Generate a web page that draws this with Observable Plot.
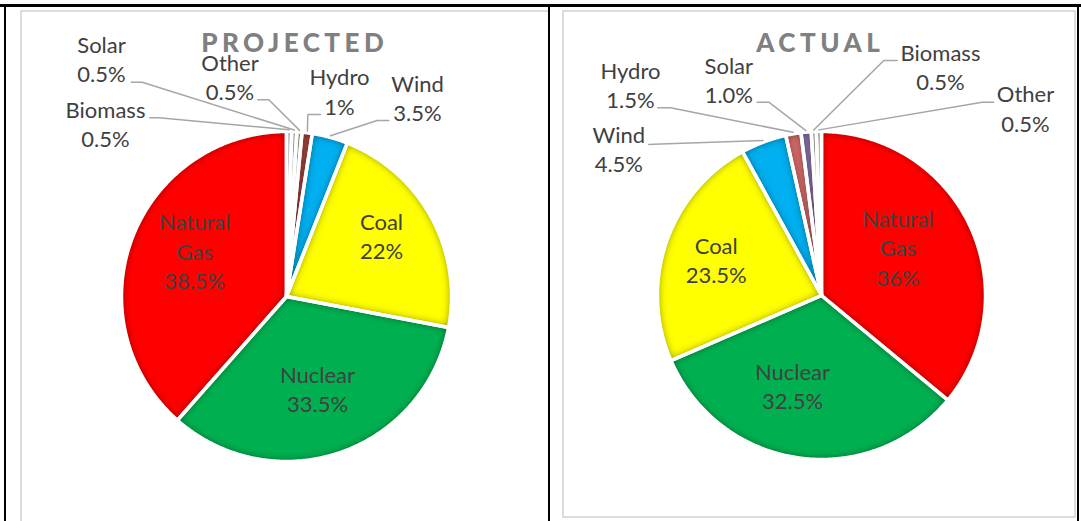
<!DOCTYPE html>
<html><head><meta charset="utf-8">
<script src="https://cdn.jsdelivr.net/npm/d3@7"></script>
<script src="https://cdn.jsdelivr.net/npm/@observablehq/plot@0.6"></script>
<style>
html,body{margin:0;padding:0;background:#fff;}
#page{position:relative;width:1081px;height:521px;overflow:hidden;background:#fff;font-family:Lato,sans-serif;}
.rule{position:absolute;background:#000;}
.frame{position:absolute;box-sizing:border-box;border:2px solid #dcdcdc;}
#page svg{position:absolute;overflow:visible;}
</style></head><body>
<div id="page">
  <div class="frame" style="left:20px;top:10px;width:530px;height:530px"></div>
  <div class="frame" style="left:562px;top:10px;width:514px;height:508px"></div>
</div>
<script>
// ---------- DATA ----------
const projectedCategories = ["Biomass", "Solar", "Other", "Hydro", "Wind", "Coal", "Nuclear", "Natural Gas"];
const projectedValues = [0.5, 0.5, 0.5, 1, 3.5, 22, 33.5, 38.5];
const projectedValueLabels = ["0.5%", "0.5%", "0.5%", "1%", "3.5%", "22%", "33.5%", "38.5%"];

const actualCategories = ["Natural Gas", "Nuclear", "Coal", "Wind", "Hydro", "Solar", "Biomass", "Other"];
const actualValues = [36, 32.5, 23.5, 4.5, 1.5, 1.0, 0.5, 0.5];
const actualValueLabels = ["36%", "32.5%", "23.5%", "4.5%", "1.5%", "1.0%", "0.5%", "0.5%"];

const projectedTitle = "PROJECTED";
const actualTitle = "ACTUAL";

// ---------- STYLE ----------
const projectedColors = {"Biomass": "#ebe8f0", "Solar": "#eeeeee", "Other": "#d8cfa0", "Hydro": "#a8443f",
  "Wind": "#00b0f0", "Coal": "#ffff00", "Nuclear": "#00b050", "Natural Gas": "#ff0000"};
const actualColors = {"Natural Gas": "#ff0000", "Nuclear": "#00b050", "Coal": "#ffff00", "Wind": "#00b0f0",
  "Hydro": "#d46a6a", "Solar": "#8c74ad", "Biomass": "#d9d9d9", "Other": "#c9bb97"};

// ---------- LAYOUT (page pixels) ----------
const projectedLayout = {
  geom: {left: 21, top: 11, width: 527, height: 510, cx: 286, cy: 296, r: 165},
  title: {x: 292, y: 51.2},
  labels: {
    "Biomass": {x: 105, y: 146.7, leader: [[149.3, 117.3], [158.3, 117.3]]},
    "Solar": {x: 101, y: 81.7, leader: [[130.7, 81.7], [141.7, 81.7]]},
    "Other": {x: 229.5, y: 99.8, leader: [[257.3, 99.3], [268.3, 99.3]]},
    "Hydro": {x: 339, y: 114, leader: [[320, 114], [307.3, 114]]},
    "Wind": {x: 417, y: 120.7, leader: [[388.3, 120], [376.7, 120]]},
    "Coal": {x: 381, y: 258.3},
    "Nuclear": {x: 317, y: 411.7},
    "Natural Gas": {x: 194.2, y: 288.3}
  }
};
const actualLayout = {
  geom: {left: 563, top: 11, width: 512, height: 506, cx: 821, cy: 295, r: 164},
  title: {x: 817.5, y: 51.2},
  labels: {
    "Hydro": {x: 630, y: 107.3, leader: [[657.3, 107.3], [670, 107.3]]},
    "Solar": {x: 728.3, y: 102.7, leader: [[756.7, 101.7], [768.3, 101.7]]},
    "Wind": {x: 618.3, y: 171.7, leader: [[648.3, 144], [660, 143.6]]},
    "Biomass": {x: 940, y: 89.3, leader: [[896.7, 60], [883.3, 60]]},
    "Other": {x: 1025, y: 131, leader: [[993.3, 101.7], [981.7, 101.7]]},
    "Natural Gas": {x: 897.5, y: 285},
    "Coal": {x: 715.7, y: 282.7},
    "Nuclear": {x: 792, y: 408.3}
  }
};

function drawPie(categories, values, valueLabels, title, colors, layout, id) {
  const {left, top, width, height, cx, cy, r} = layout.geom;
  const ux = px => (px - cx) / r, uy = py => (cy - py) / r;
  const rows = categories.map((name, i) => ({name, value: values[i], valueLabel: valueLabels[i]}));
  const arcs = d3.pie().sort(null).value(d => d.value)(rows);

  const slices = [];
  for (const a of arcs) {
    const n = Math.max(2, Math.ceil((a.endAngle - a.startAngle) / (Math.PI / 360)));
    slices.push({name: a.data.name, x: 0, y: 0});
    for (let k = 0; k <= n; ++k) {
      const t = a.startAngle + (a.endAngle - a.startAngle) * k / n;
      slices.push({name: a.data.name, x: Math.sin(t), y: Math.cos(t)});
    }
    slices.push({name: a.data.name, x: 0, y: 0});
  }

  const labelRows = arcs.map(a => {
    const L = layout.labels[a.data.name];
    return {name: a.data.name, text: a.data.name.replace(" ", "\n") + "\n" + a.data.valueLabel, x: ux(L.x), y: uy(L.y)};
  });

  const leaders = [];
  for (const a of arcs) {
    const L = layout.labels[a.data.name];
    if (!L.leader) continue;
    const mid = (a.startAngle + a.endAngle) / 2;
    for (const [px, py] of L.leader) leaders.push({name: a.data.name, x: ux(px), y: uy(py)});
    leaders.push({name: a.data.name, x: 1.01 * Math.sin(mid), y: 1.01 * Math.cos(mid)});
  }

  const ls = 4.5;
  const svg = Plot.plot({
    width, height, margin: 0,
    x: {domain: [ux(left), ux(left + width)], axis: null},
    y: {domain: [uy(top + height), uy(top)], axis: null},
    color: {domain: categories, range: categories.map(c => colors[c])},
    style: {fontFamily: "Lato, sans-serif", background: "transparent", overflow: "visible"},
    marks: [
      Plot.line(slices, {x: "x", y: "y", z: "name", fill: "name", stroke: "none"}),
      Plot.line(slices, {x: "x", y: "y", z: "name", stroke: "white", strokeWidth: 3.5, strokeLinejoin: "round"}),
      Plot.line(leaders, {x: "x", y: "y", z: "name", stroke: "#a6a6a6", strokeWidth: 1.5}),
      Plot.text(labelRows, {x: "x", y: "y", text: "text", textAnchor: "middle", lineAnchor: "bottom",
        lineHeight: 1.332, fontSize: 22, fill: "#404040"}),
      Plot.text([title], {x: ux(layout.title.x + ls / 2), y: uy(layout.title.y), text: d => d, textAnchor: "middle",
        lineAnchor: "bottom", fontSize: 26, fontWeight: 900, fill: "#808080"})
    ]
  });
  svg.style.left = left + "px";
  svg.style.top = top + "px";
  svg.style.maxWidth = "none";

  const defs = d3.select(svg).insert("defs", ":first-child");
  defs.html(`<filter id="${id}" x="-10%" y="-10%" width="120%" height="120%" color-interpolation-filters="sRGB">
    <feGaussianBlur in="SourceAlpha" stdDeviation="4" result="b"/>
    <feComposite in="SourceAlpha" in2="b" operator="arithmetic" k1="0" k2="1" k3="-1" k4="0" result="edge"/>
    <feFlood flood-color="#000" flood-opacity="0.55" result="f"/>
    <feComposite in="f" in2="edge" operator="in" result="sh"/>
    <feMerge><feMergeNode in="SourceGraphic"/><feMergeNode in="sh"/></feMerge>
  </filter>`);
  const fillGroup = svg.querySelectorAll('g[aria-label="line"]')[0];
  d3.select(fillGroup).selectAll("path").attr("filter", `url(#${id})`);
  d3.select(svg).selectAll("text").filter(function() { return this.textContent === title; })
    .style("letter-spacing", ls + "px");
  return svg;
}

const page = document.getElementById("page");
page.appendChild(drawPie(projectedCategories, projectedValues, projectedValueLabels, projectedTitle, projectedColors, projectedLayout, "shadeP"));
page.appendChild(drawPie(actualCategories, actualValues, actualValueLabels, actualTitle, actualColors, actualLayout, "shadeA"));

// table rules
for (const [l, t, w, h] of [[0, 4, 1081, 3], [4, 4, 2, 517], [548, 4, 2, 517], [1077, 4, 2, 517]]) {
  const d = document.createElement("div");
  d.className = "rule";
  Object.assign(d.style, {left: l + "px", top: t + "px", width: w + "px", height: h + "px"});
  page.appendChild(d);
}
</script>
</body></html>
